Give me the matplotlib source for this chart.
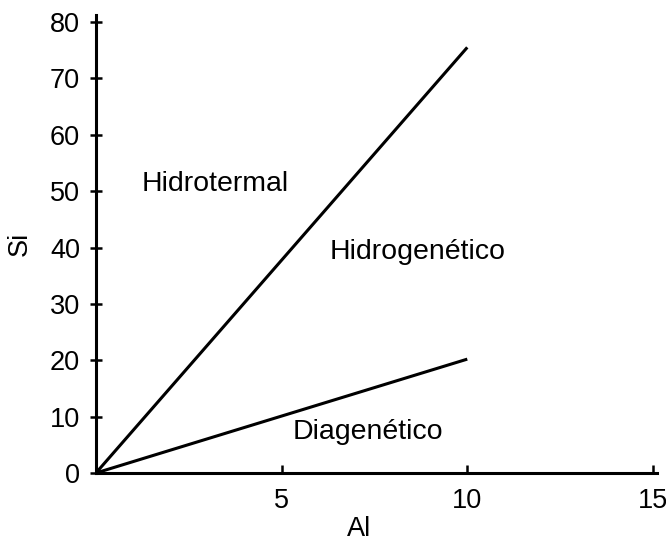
import matplotlib
matplotlib.use("Agg")
import matplotlib.pyplot as plt

plt.rcParams['font.family'] = ['Liberation Sans', 'DejaVu Sans']

# boundary lines (Al, Si end points from origin)
hydro_line_al = [0, 10]
hydro_line_si = [0, 75.5]
diag_line_al = [0, 10]
diag_line_si = [0, 20.2]

# field labels
field_names = ['Hidrotermal', 'Hidrogenético', 'Diagenético']
field_al = [1.24, 6.3, 5.3]
field_si = [51.2, 39.2, 7.3]

x_ticks = [5, 10, 15]
y_ticks = [0, 10, 20, 30, 40, 50, 60, 70, 80]

fig = plt.figure(figsize=(6.66, 5.44), dpi=100)
ax = fig.add_axes([0.144, 0.1305, 0.842, 0.8415])

ax.plot(hydro_line_al, hydro_line_si, color='black', lw=2.2, solid_capstyle='butt')
ax.plot(diag_line_al, diag_line_si, color='black', lw=2.2, solid_capstyle='butt')

for name, xa, ys in zip(field_names, field_al, field_si):
    ax.text(xa, ys, name, fontsize=20.5, ha='left', va='center')

ax.set_xlim(0, 15.1)
ax.set_ylim(0, 81.2)
ax.set_xticks(x_ticks)
ax.set_yticks(y_ticks)
ax.tick_params(axis='x', direction='in', length=6, width=1.8, labelsize=19.5, pad=11)
ax.tick_params(axis='y', direction='inout', length=9, width=1.8, labelsize=19.5, pad=7)

for s in ['top', 'right']:
    ax.spines[s].set_visible(False)
for s in ['left', 'bottom']:
    ax.spines[s].set_linewidth(2.2)

ax.set_xlabel('Al', fontsize=19.5, labelpad=1, x=0.47)
ax.set_ylabel('Si', fontsize=19.5, labelpad=12)

fig.savefig('out.png', dpi=100)
